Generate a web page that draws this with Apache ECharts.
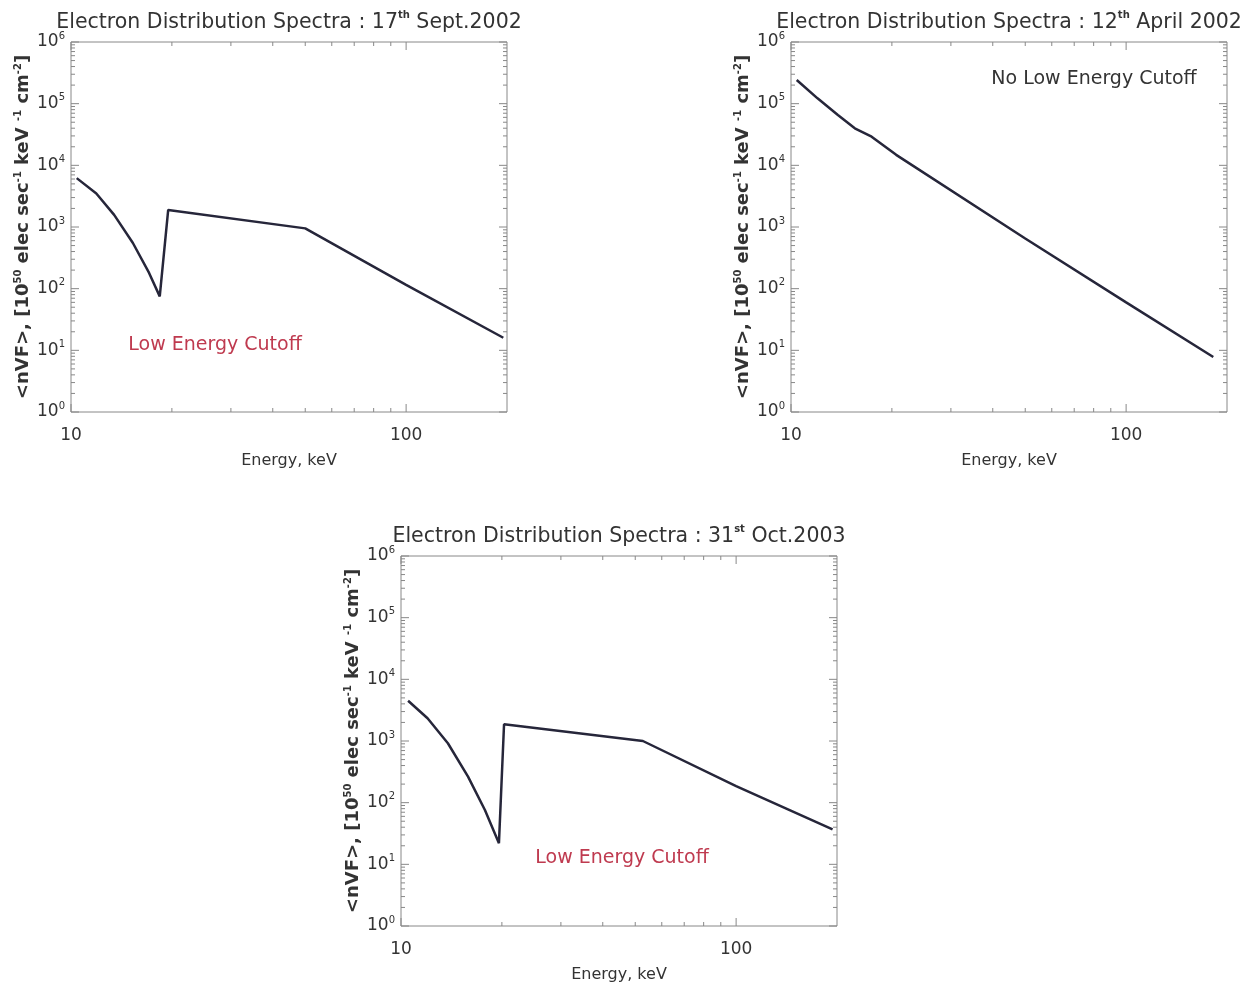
<!DOCTYPE html>
<html><head><meta charset="utf-8">
<script src="https://cdn.jsdelivr.net/npm/echarts@6/dist/echarts.min.js"></script>
<style>html,body{margin:0;padding:0;background:#fff}#c{width:1259px;height:986px}</style>
</head><body><div id="c"></div>
<script>
// ---- data ----
const energy1 = [10.4, 11.9, 13.45, 15.3, 17.1, 18.4, 19.5, 50.0, 100, 195];
const flux1   = [6200, 3500, 1570, 550, 180, 75, 1890, 950, 115, 16];

const energy2 = [10.4, 12.0, 13.8, 15.5, 17.4, 20.6, 50, 100, 182];
const flux2   = [242000, 122000, 65600, 39900, 29200, 14800, 650, 60, 7.8];

const energy3 = [10.5, 12.0, 13.8, 15.85, 17.8, 19.6, 20.3, 52.7, 100, 194];
const flux3   = [4500, 2340, 920, 265, 76, 22, 1870, 1000, 185, 37];

const titles = [
  ['Electron Distribution Spectra : 17', 'th', ' Sept.2002'],
  ['Electron Distribution Spectra : 12', 'th', ' April 2002'],
  ['Electron Distribution Spectra : 31', 'st', ' Oct.2003']
];
const xMajorTicks = [10, 100];
const xMinorTicks = [20, 30, 40, 50, 60, 70, 80, 90];
const yMajorTicks = [1, 10, 100, 1000, 10000, 100000, 1000000];
const yDecades = [1, 10, 100, 1000, 10000, 100000];
const yMinorMantissas = [2, 3, 4, 5, 6, 7, 8, 9];
const X_MIN = 10, X_MAX = 200, Y_MIN = 1, Y_MAX = 1e6;

const FONT = 'DejaVu Sans';
const grids = [
  {left: 71, top: 42, width: 436, height: 370},
  {left: 791, top: 42, width: 436, height: 370},
  {left: 401, top: 556, width: 436, height: 370}
];
const seriesData = [[energy1, flux1], [energy2, flux2], [energy3, flux3]];

const chart = echarts.init(document.getElementById('c'), null, {renderer: 'canvas'});

const xAxes = grids.map((g, i) => ({
  type: 'log', logBase: 10, gridIndex: i, min: X_MIN, max: X_MAX,
  axisLine: {show: false}, axisTick: {show: false}, splitLine: {show: false}, minorTick: {show: false},
  axisLabel: {
    margin: 15, color: '#333', fontFamily: FONT, fontSize: 17, showMaxLabel: false, showMinLabel: true,
    formatter: v => (xMajorTicks.some(t => Math.abs(t - v) / t < 1e-6) ? String(Math.round(v)) : '')
  },
  name: 'Energy, keV', nameLocation: 'middle', nameGap: 41,
  nameTextStyle: {color: '#333', fontFamily: FONT, fontSize: 16}
}));

const yAxes = grids.map((g, i) => ({
  type: 'log', logBase: 10, gridIndex: i, min: Y_MIN, max: Y_MAX,
  axisLine: {show: false}, axisTick: {show: false}, splitLine: {show: false}, minorTick: {show: false},
  axisLabel: {
    margin: 6, color: '#333', fontFamily: FONT,
    formatter: v => '{b|10}{s|' + Math.round(Math.log10(v)) + '}',
    rich: {
      b: {fontSize: 17, fontFamily: FONT, color: '#333', lineHeight: 22},
      s: {fontSize: 10, fontFamily: FONT, color: '#333', lineHeight: 22, verticalAlign: 'top'}
    }
  },
  name: '<nVF>, [10{s|50} elec sec{s|-1} keV {s|-1} cm{s|-2}]',
  nameLocation: 'middle', nameGap: 38, nameRotate: 90,
  nameTextStyle: {
    color: '#333', fontFamily: FONT, fontSize: 18, fontWeight: 'bold',
    rich: {s: {fontSize: 10, fontFamily: FONT, fontWeight: 'bold', color: '#333', verticalAlign: 'top', lineHeight: 20}}
  }
}));

function tickSeries(gi) {
  const data = [];
  xMinorTicks.forEach(v => data.push([v, Y_MIN, 0]));
  xMajorTicks.forEach(v => data.push([v, Y_MIN, 2]));
  yDecades.forEach(d => yMinorMantissas.forEach(m => data.push([X_MIN, m * d, 1])));
  yMajorTicks.forEach(v => data.push([X_MIN, v, 3]));
  return {
    type: 'custom', xAxisIndex: gi, yAxisIndex: gi, silent: true, clip: false, z: 1,
    encode: {x: 0, y: 1}, data,
    renderItem(params, api) {
      const k = api.value(2);
      const st = {stroke: '#888', lineWidth: 1};
      if (k === 0 || k === 2) {
        const v = api.value(0);
        const b = api.coord([v, Y_MIN]), t = api.coord([v, Y_MAX]);
        const L = k === 0 ? 4 : 8;
        return {type: 'group', children: [
          {type: 'line', shape: {x1: b[0], y1: b[1], x2: b[0], y2: b[1] - L}, style: st},
          {type: 'line', shape: {x1: t[0], y1: t[1], x2: t[0], y2: t[1] + L}, style: st}
        ]};
      } else {
        const v = api.value(1);
        const l = api.coord([X_MIN, v]), r = api.coord([X_MAX, v]);
        const L = k === 1 ? 4 : 8;
        return {type: 'group', children: [
          {type: 'line', shape: {x1: l[0], y1: l[1], x2: l[0] + L, y2: l[1]}, style: st},
          {type: 'line', shape: {x1: r[0], y1: r[1], x2: r[0] - L, y2: r[1]}, style: st}
        ]};
      }
    }
  };
}

const series = [];
seriesData.forEach(([xs, ys], i) => {
  series.push({
    type: 'line', xAxisIndex: i, yAxisIndex: i, showSymbol: false, smooth: false, z: 3,
    data: xs.map((x, j) => [x, ys[j]]),
    lineStyle: {color: '#26263a', width: 2.5}
  });
  series.push(tickSeries(i));
});

const title = titles.map((t, i) => ({
  text: t[0] + '{s|' + t[1] + '}' + t[2],
  left: grids[i].left + grids[i].width / 2, top: grids[i].top - 32, textAlign: 'center',
  padding: 0,
  textStyle: {
    color: '#333', fontFamily: FONT, fontSize: 20.5, fontWeight: 'normal', lineHeight: 26,
    rich: {s: {fontSize: 10, fontFamily: FONT, fontWeight: 'bold', color: '#333', verticalAlign: 'top', lineHeight: 26}}
  }
}));

chart.setOption({
  backgroundColor: '#fff',
  animation: false,
  title,
  grid: grids.map(g => Object.assign({show: true, borderColor: '#888', borderWidth: 1, backgroundColor: 'transparent', containLabel: false}, g)),
  xAxis: xAxes,
  yAxis: yAxes,
  series,
  graphic: [
    {type: 'text', x: 215, y: 345, style: {text: 'Low Energy Cutoff', fontSize: 19, fontFamily: FONT, fill: '#bf3a4f', align: 'center', verticalAlign: 'middle'}},
    {type: 'text', x: 1094, y: 79, style: {text: 'No Low Energy Cutoff', fontSize: 19, fontFamily: FONT, fill: '#333', align: 'center', verticalAlign: 'middle'}},
    {type: 'text', x: 622, y: 858, style: {text: 'Low Energy Cutoff', fontSize: 19, fontFamily: FONT, fill: '#bf3a4f', align: 'center', verticalAlign: 'middle'}}
  ]
});
</script>
</body></html>
